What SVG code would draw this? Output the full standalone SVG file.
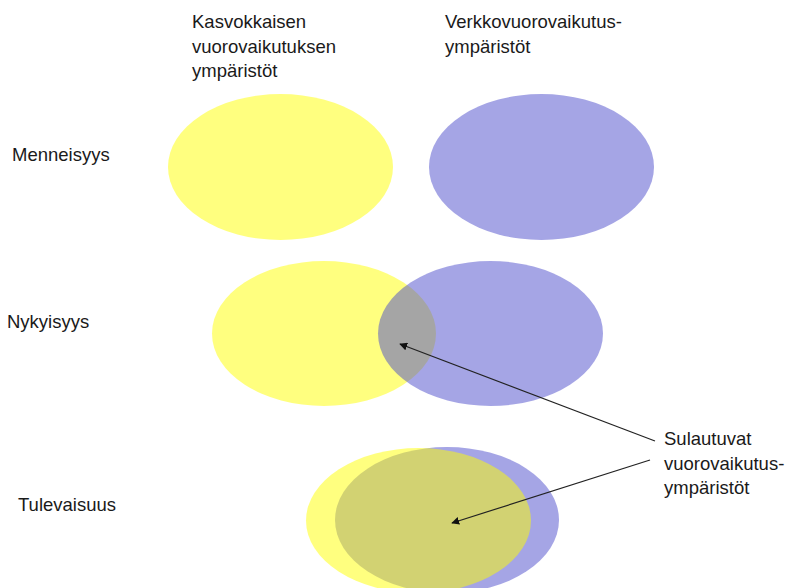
<svg xmlns="http://www.w3.org/2000/svg" width="788" height="588" viewBox="0 0 788 588">
<style>
text{font-family:"Liberation Sans",Arial,sans-serif;font-size:18.5px;fill:#1a1a1a}
.y{fill:#FFFF00;fill-opacity:0.5}
.b{fill:#4B4BCB;fill-opacity:0.5}
.c{stroke:#222;stroke-width:1.2;fill:none;marker-end:url(#ah)}
</style>
<defs>
<marker id="ah" viewBox="0 0 10 10" refX="9" refY="5" markerWidth="8" markerHeight="8" markerUnits="userSpaceOnUse" orient="auto">
<path d="M0,0 L10,5 L0,10 z" fill="#111"/>
</marker>
</defs>
<rect width="788" height="588" fill="#fff"/>
<g id="header-left"><text x="192" y="28">Kasvokkaisen</text><text x="192" y="52.5">vuorovaikutuksen</text><text x="192" y="77">ympäristöt</text></g>
<g id="header-right"><text x="445" y="28">Verkkovuorovaikutus-</text><text x="445" y="52.5">ympäristöt</text></g>
<g id="label-past"><text x="12" y="161">Menneisyys</text></g>
<g id="label-present"><text x="7" y="328">Nykyisyys</text></g>
<g id="label-future"><text x="18" y="511">Tulevaisuus</text></g>
<g id="past-face"><ellipse class="y" cx="280.5" cy="167" rx="112.5" ry="73"/></g>
<g id="past-net"><ellipse class="b" cx="541.5" cy="167" rx="112.5" ry="73"/></g>
<g id="present-face"><ellipse class="y" cx="324" cy="333.5" rx="112" ry="72.5"/></g>
<g id="present-net"><ellipse class="b" cx="490.5" cy="333.5" rx="112.5" ry="72.5"/></g>
<g id="future-net"><ellipse class="b" cx="447" cy="520" rx="112" ry="73"/></g>
<g id="future-face"><ellipse class="y" cx="418.5" cy="520.5" rx="112.5" ry="72.5"/></g>
<g id="label-merge"><text x="664" y="445">Sulautuvat</text><text x="664" y="469.5">vuorovaikutus-</text><text x="664" y="494">ympäristöt</text></g>
<g id="connectors">
<line class="c" x1="655" y1="441" x2="400" y2="344"/>
<line class="c" x1="650" y1="460" x2="452" y2="523"/>
</g>
</svg>
